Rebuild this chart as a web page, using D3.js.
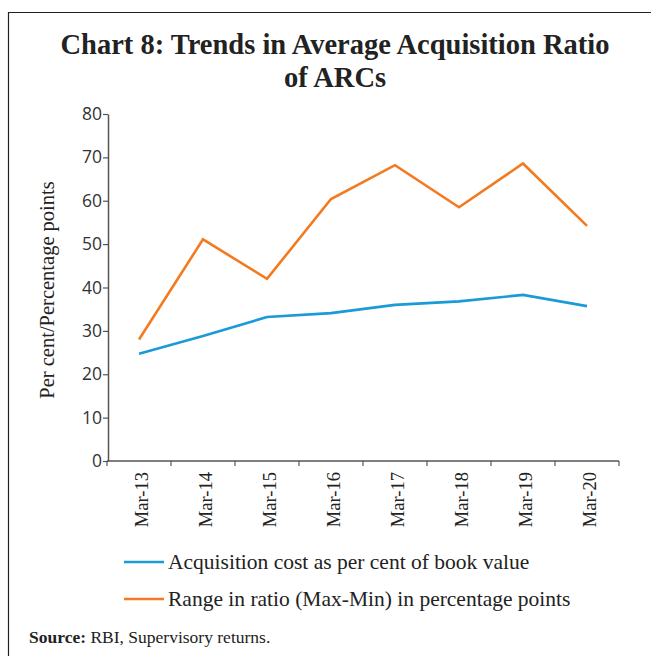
<!DOCTYPE html>
<html lang="en">
<meta charset="utf-8">
<style>
  body { margin: 0; background: #fff; }
  svg { display: block; }
</style>
<body>
<svg width="651" height="656"></svg>
<script src="https://d3js.org/d3.v7.min.js"></script>
<script>
const categories = ['Mar-13','Mar-14','Mar-15','Mar-16','Mar-17','Mar-18','Mar-19','Mar-20']
const acquisitionCost = [24.7, 28.8, 33.2, 34.1, 36.0, 36.8, 38.3, 35.7]
const rangeInRatio = [28.0, 51.1, 42.0, 60.4, 68.2, 58.5, 68.6, 54.2]
const yTicks = [0, 10, 20, 30, 40, 50, 60, 70, 80]
const seriesNames = ['Acquisition cost as per cent of book value', 'Range in ratio (Max-Min) in percentage points']
const colors = ['#1b9ad8', '#f47a20']

const svg = d3.select('svg')
const serif = "'Liberation Serif', 'DejaVu Serif', serif"

// frame: left and top edges
svg.append('path')
   .attr('d', 'M8.5,656 V12.5 H651')
   .attr('fill', 'none')
   .attr('stroke', '#222')
   .attr('stroke-width', 1.2)

// title
svg.append('text')
   .attr('x', 335).attr('y', 54)
   .attr('text-anchor', 'middle')
   .attr('font-family', serif).attr('font-weight', 'bold')
   .attr('font-size', 28.5).attr('fill', '#222')
   .text('Chart 8: Trends in Average Acquisition Ratio')
svg.append('text')
   .attr('x', 335).attr('y', 87)
   .attr('text-anchor', 'middle')
   .attr('font-family', serif).attr('font-weight', 'bold')
   .attr('font-size', 28.5).attr('fill', '#222')
   .text('of ARCs')

let x = d3.scaleBand().domain(categories).range([107, 619])
let y = d3.scaleLinear().domain([0, 80]).range([461, 114])

// y axis
let yAxis = svg.append('g')
   .attr('transform', 'translate(108,0)')
   .call(d3.axisLeft(y).tickValues(yTicks).tickSize(5).tickSizeOuter(0))
yAxis.select('.domain').attr('stroke', '#555').attr('stroke-width', 1.5)
yAxis.selectAll('.tick line').attr('stroke', '#555').attr('stroke-width', 1.2)
yAxis.selectAll('.tick text')
   .attr('font-family', "'Open Sans', 'Noto Sans', sans-serif")
   .attr('font-size', 17.5).attr('fill', '#333').attr('x', -6)

// x axis
let xTickPos = categories.map(c => x(c)).concat([619])
let xAxis = svg.append('g').attr('transform', 'translate(0,461)')
xAxis.append('line')
   .attr('x1', 107).attr('x2', 619).attr('y1', 0).attr('y2', 0)
   .attr('stroke', '#555').attr('stroke-width', 1.5)
xAxis.selectAll('line.tk').data(xTickPos).enter()
   .append('line').attr('class', 'tk')
   .attr('x1', d => d).attr('x2', d => d)
   .attr('y1', 0).attr('y2', 5)
   .attr('stroke', '#555').attr('stroke-width', 1.2)
xAxis.selectAll('text').data(categories).enter()
   .append('text')
   .attr('transform', d => `translate(${x(d) + x.bandwidth() / 2 + 9},11) rotate(-90)`)
   .attr('text-anchor', 'end')
   .attr('font-family', serif).attr('font-size', 18.5).attr('fill', '#222')
   .text(d => d)

// y axis title
svg.append('text')
   .attr('transform', 'translate(54,290) rotate(-90)')
   .attr('text-anchor', 'middle')
   .attr('font-family', serif).attr('font-size', 20.5).attr('fill', '#222')
   .text('Per cent/Percentage points')

// lines
let line = d3.line()
   .x((d, i) => x(categories[i]) + x.bandwidth() / 2)
   .y(d => y(d))
;[acquisitionCost, rangeInRatio].forEach((s, k) => {
  svg.append('path')
     .datum(s)
     .attr('d', line)
     .attr('fill', 'none')
     .attr('stroke', colors[k])
     .attr('stroke-width', 2.6)
})

// legend
seriesNames.forEach((n, k) => {
  let ly = 562 + k * 37
  svg.append('line')
     .attr('x1', 124).attr('x2', 164).attr('y1', ly).attr('y2', ly)
     .attr('stroke', colors[k]).attr('stroke-width', 2.6)
  svg.append('text')
     .attr('x', 168).attr('y', ly + 7)
     .attr('font-family', serif).attr('font-size', 21.5).attr('fill', '#222')
     .text(n)
})

// source
let src = svg.append('text')
   .attr('x', 29).attr('y', 643)
   .attr('font-family', serif).attr('font-size', 17.5).attr('fill', '#222')
src.append('tspan').attr('font-weight', 'bold').text('Source:')
src.append('tspan').text(' RBI, Supervisory returns.')
</script>
</body>
</html>
